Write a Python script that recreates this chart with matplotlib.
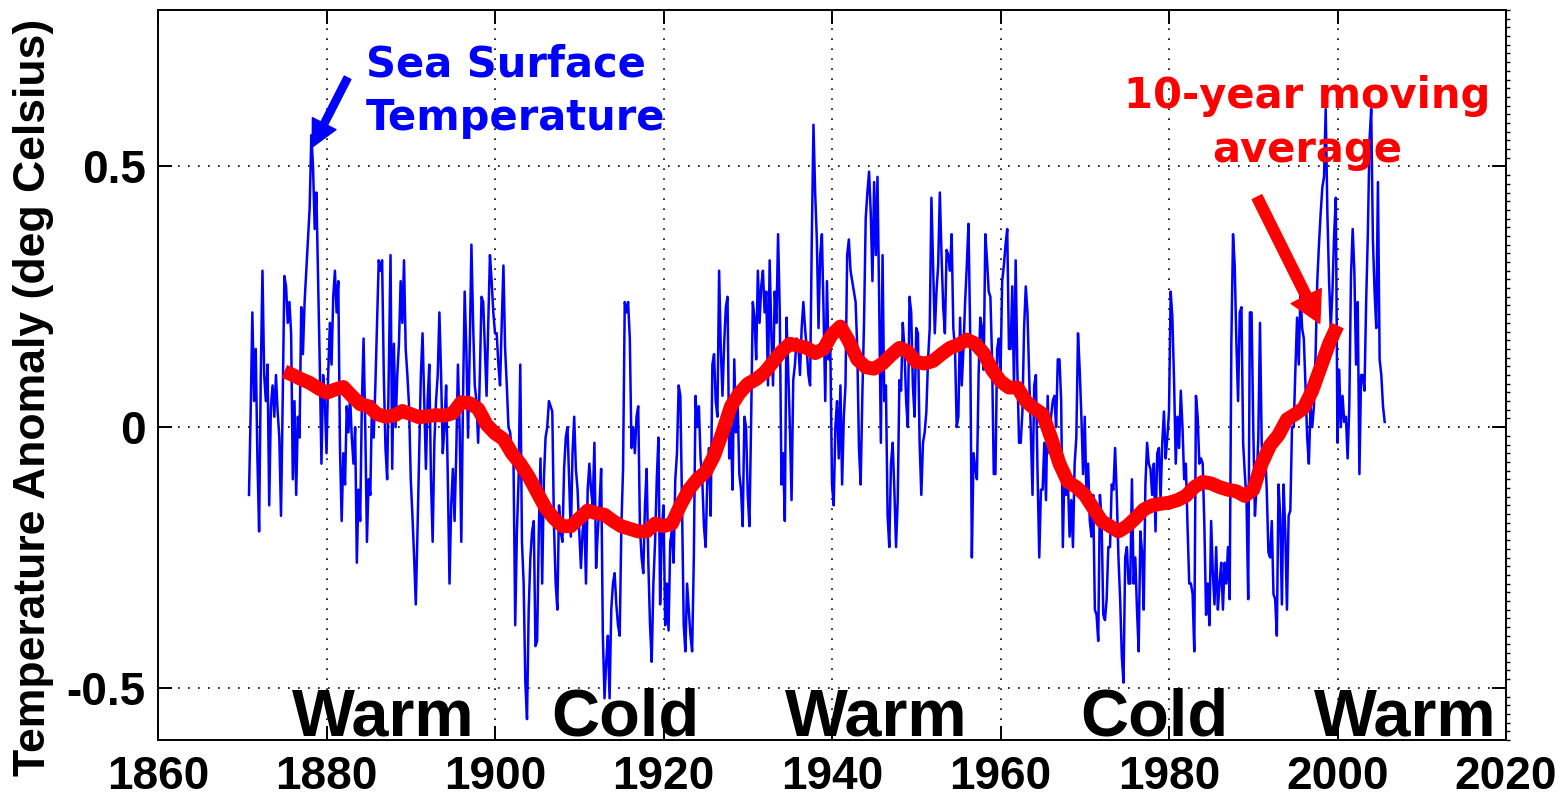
import numpy as np
import matplotlib.pyplot as plt
from matplotlib.ticker import MultipleLocator

plt.rcParams['font.family'] = ['Liberation Sans', 'DejaVu Sans']
plt.rcParams['font.weight'] = 'bold'
plt.rcParams['axes.unicode_minus'] = False

# ---------------------------------------------------------
# Sea surface temperature anomaly, sampled every 0.2 year
# ---------------------------------------------------------
sst_start = 1870.8
sst_step = 0.2

sst_1871_1887 = [-0.13, 0.03, 0.22, 0.05, 0.15, -0.06, -0.2, 0.1, 0.30, 0.1,
                 0.05, 0.12, -0.15, 0.04, 0.08, 0.02, 0.1, 0.03, -0.02, -0.17,
                 0.05, 0.29, 0.27, 0.2, 0.24, 0.18, -0.1, 0.05, -0.13, 0.02,
                 -0.02, 0.23, 0.14, 0.24, 0.3, 0.36, 0.42, 0.56, 0.5, 0.38,
                 0.45, 0.29, 0.12, -0.07, 0.1, 0.05, -0.05, 0.1, 0.2, 0.12,
                 0.25, 0.3, 0.22, 0.28, -0.04, -0.18, -0.05, -0.11, 0.04, -0.01,
                 0.06, -0.02, -0.07, 0.0, -0.26, -0.12, -0.18, 0.05, 0.17, 0.0,
                 -0.22, -0.1, -0.13, 0.05, -0.02, 0.08, 0.2, 0.32, 0.3, 0.32,
                 0.1, -0.04, -0.1, 0.12, 0.33]

sst_1888_1904 = [-0.08, 0.16, 0.0, 0.1, 0.16, 0.28, 0.2, 0.32, 0.15, 0.1,
                 0.04, -0.1, -0.17, -0.25, -0.34, -0.2, -0.05, 0.1, 0.18, 0.05,
                 -0.08, 0.05, 0.12, -0.1, -0.22, -0.03, 0.05, 0.1, 0.22, 0.1,
                 -0.05, 0.0, 0.08, -0.1, -0.3, -0.15, -0.08, -0.18, -0.05, 0.12,
                 0.0, -0.22, 0.05, 0.26, 0.15, -0.02, 0.15, 0.35, 0.2, 0.08,
                 0.05, -0.03, 0.1, 0.25, 0.24, 0.15, 0.06, 0.2, 0.33, 0.28,
                 0.22, 0.18, 0.18, 0.12, 0.08, 0.2, 0.31, 0.15, 0.08, 0.0,
                 -0.01, -0.05, -0.07, -0.38, -0.2, -0.1, 0.12, -0.22, -0.3, -0.49,
                 -0.56, -0.35, -0.25, -0.2, -0.18, -0.42]

sst_1905_1922 = [-0.41, -0.2, -0.06, -0.3, -0.1, -0.02, 0.0, 0.05, 0.04, 0.03,
                 -0.19, -0.3, -0.35, -0.15, -0.2, -0.22, -0.08, -0.02, 0.0, -0.1,
                 -0.21, -0.05, 0.02, -0.08, -0.12, -0.2, -0.27, -0.2, -0.17, -0.3,
                 -0.12, -0.07, -0.12, -0.15, -0.03, -0.27, -0.2, -0.15, -0.08, -0.4,
                 -0.52, -0.45, -0.4, -0.52, -0.35, -0.3, -0.28, -0.34, -0.38, -0.4,
                 -0.19, -0.08, 0.24, 0.22, 0.24, 0.17, -0.04, 0.0, -0.05, 0.02,
                 0.04, -0.19, -0.25, -0.28, -0.15, -0.08, -0.26, -0.38, -0.45, -0.3,
                 -0.22, -0.1, -0.02, -0.34, -0.2, -0.15, -0.38, -0.3, -0.39, -0.22,
                 -0.2, -0.26, -0.1, -0.05, 0.08, 0.06, -0.15]

sst_1922_1939 = [-0.38, -0.43, -0.3, -0.35, -0.4, -0.43, -0.25, 0.06, 0.0, 0.04,
                 -0.06, -0.1, -0.19, -0.23, -0.1, -0.04, -0.17, 0.12, 0.14, 0.05,
                 0.02, 0.3, 0.15, 0.06, 0.16, 0.23, 0.25, -0.06, 0.0, -0.12,
                 0.13, -0.01, 0.05, -0.09, -0.12, -0.19, 0.02, 0.0, -0.13, -0.19,
                 0.01, 0.24, 0.21, 0.13, 0.3, 0.2, 0.27, 0.3, 0.22, 0.26,
                 0.08, 0.32, 0.18, 0.08, 0.26, 0.2, 0.37, 0.22, -0.11, -0.05,
                 -0.18, 0.21, 0.11, 0.0, -0.14, 0.09, 0.12, 0.17, 0.16, 0.1,
                 0.19, 0.24, 0.19, 0.15, 0.1, 0.08, 0.36, 0.58, 0.45, 0.36,
                 0.19, 0.33, 0.37, 0.22, 0.05]

sst_1939_1956 = [0.28, 0.13, 0.15, -0.11, -0.15, 0.0, 0.05, -0.06, 0.08, -0.11,
                 0.02, 0.08, 0.33, 0.36, 0.3, 0.28, 0.26, 0.24, 0.15, -0.04,
                 -0.11, 0.06, 0.2, 0.4, 0.45, 0.49, 0.41, 0.28, 0.47, 0.33,
                 0.48, 0.24, -0.03, 0.33, 0.05, 0.08, -0.17, -0.23, -0.07, -0.03,
                 -0.12, -0.23, -0.14, 0.09, 0.07, 0.2, 0.15, 0.05, 0.0, 0.25,
                 0.22, 0.08, 0.02, 0.19, 0.18, -0.03, -0.13, -0.03, -0.01, 0.03,
                 0.13, 0.19, 0.44, 0.31, 0.18, 0.26, 0.31, 0.45, 0.33, 0.23,
                 0.18, 0.34, 0.33, 0.3, 0.37, 0.19, 0.15, 0.0, 0.02, 0.21,
                 0.08, 0.15, 0.24, 0.31, 0.39, 0.18, -0.25]

sst_1957_1973 = [-0.05, -0.08, -0.1, 0.1, 0.21, 0.19, 0.11, 0.37, 0.32, 0.26,
                 0.25, 0.13, -0.09, -0.09, 0.15, 0.17, 0.1, 0.28, 0.31, 0.35,
                 0.38, 0.15, 0.15, 0.27, 0.08, 0.32, 0.11, -0.03, -0.03, 0.03,
                 0.19, 0.27, 0.22, 0.1, -0.01, -0.13, 0.08, 0.1, -0.09, -0.25,
                 -0.12, -0.12, -0.03, -0.14, 0.06, -0.05, 0.02, 0.05, 0.06, 0.0,
                 0.13, 0.13, 0.05, -0.23, -0.07, -0.13, -0.1, -0.21, -0.14, -0.23,
                 -0.07, -0.02, 0.18, 0.11, 0.02, -0.09, 0.02, -0.13, -0.07, -0.18,
                 -0.21, -0.13, -0.35, -0.36, -0.41, -0.13, -0.18, -0.36, -0.37, -0.33,
                 -0.23, -0.23, -0.11, -0.12]

sst_1974_1990 = [-0.04, -0.13, -0.25, -0.33, -0.44, -0.49, -0.25, -0.23, -0.3, -0.3,
                 -0.1, -0.3, -0.25, -0.35, -0.43, -0.2, -0.24, -0.35, -0.11, -0.03,
                 -0.07, -0.08, -0.13, -0.07, -0.2, -0.05, -0.04, -0.14, -0.03, 0.03,
                 -0.06, -0.02, 0.03, 0.26, 0.21, 0.09, -0.07, 0.02, -0.04, 0.07,
                 0.0, -0.1, -0.07, -0.19, -0.3, -0.3, -0.32, -0.43, 0.06, 0.02,
                 -0.07, -0.06, -0.07, -0.19, -0.36, -0.3, -0.38, -0.18, -0.28, -0.34,
                 -0.23, -0.35, -0.3, -0.26, -0.35, -0.26, -0.3, -0.23, -0.33, 0.16,
                 0.37, 0.31, 0.16, 0.05, 0.22, 0.23, -0.03, -0.09, -0.14, -0.33,
                 0.22, 0.22, 0.0, -0.17, -0.11, -0.02]

sst_1991_2005 = [0.2, -0.03, -0.08, -0.04, -0.12, -0.24, -0.25, -0.18, -0.32, -0.33,
                 -0.4, -0.11, -0.17, -0.34, -0.11, -0.2, -0.35, -0.17, -0.16, 0.0,
                 0.0, 0.11, 0.21, 0.12, 0.26, 0.19, 0.17, 0.08, -0.02, -0.07,
                 0.04, 0.0, 0.04, 0.14, 0.28, 0.35, 0.41, 0.46, 0.48, 0.61,
                 0.41, 0.28, 0.19, 0.26, 0.37, 0.44, -0.03, 0.11, 0.0, 0.06,
                 0.01, 0.02, -0.06, 0.04, 0.29, 0.38, 0.3, 0.12, 0.24, -0.09,
                 0.1, 0.1, 0.07, 0.24, 0.37, 0.55, 0.61, 0.36, 0.26, 0.19,
                 0.47, 0.13, 0.1, 0.04, 0.01]

# ---------------------------------------------------------
# 10-year moving average, one value per year (1875-2000)
# ---------------------------------------------------------
ma_start = 1875
ma_1875_1924 = [0.107, 0.10, 0.092, 0.085, 0.075, 0.066, 0.072, 0.077, 0.06, 0.044,
                0.04, 0.025, 0.02, 0.022, 0.031, 0.025, 0.019, 0.021, 0.023, 0.022,
                0.027, 0.048, 0.046, 0.035, 0.005, -0.012, -0.023, -0.05, -0.07, -0.095,
                -0.125, -0.155, -0.175, -0.19, -0.19, -0.175, -0.16, -0.165, -0.168, -0.18,
                -0.19, -0.195, -0.2, -0.2, -0.185, -0.19, -0.185, -0.15, -0.12, -0.1]
ma_1925_1974 = [-0.086, -0.055, -0.01, 0.04, 0.065, 0.083, 0.092, 0.105, 0.125, 0.145,
                0.16, 0.156, 0.152, 0.142, 0.15, 0.178, 0.193, 0.165, 0.13, 0.115,
                0.112, 0.122, 0.138, 0.152, 0.145, 0.125, 0.122, 0.127, 0.14, 0.152,
                0.158, 0.168, 0.16, 0.142, 0.11, 0.088, 0.076, 0.076, 0.05, 0.036,
                0.025, -0.02, -0.07, -0.105, -0.115, -0.13, -0.155, -0.18, -0.19, -0.2]
ma_1975_2000 = [-0.19, -0.175, -0.158, -0.15, -0.147, -0.145, -0.14, -0.132, -0.115, -0.105,
                -0.108, -0.115, -0.12, -0.123, -0.132, -0.12, -0.07, -0.035, -0.015, 0.015,
                0.025, 0.037, 0.07, 0.115, 0.16, 0.195]

# Regime labels along the bottom
regime_names = ["Warm", "Cold", "Warm", "Cold", "Warm"]
regime_years = [1886.7, 1915.5, 1945.3, 1978.3, 2008.1]

year_ticks = np.arange(1860, 2021, 20)
anom_ticks = [-0.5, 0, 0.5]
anom_labels = ["-0.5", "0", "0.5"]

sst = np.concatenate([sst_1871_1887, sst_1888_1904, sst_1905_1922, sst_1922_1939,
                      sst_1939_1956, sst_1957_1973, sst_1974_1990, sst_1991_2005])
sst_t = sst_start + sst_step * np.arange(len(sst))

ma = np.concatenate([ma_1875_1924, ma_1925_1974, ma_1975_2000])
ma_t = ma_start + np.arange(len(ma))

# =========================================================
fig = plt.figure(figsize=(15.68, 7.97), dpi=100)
ax = fig.add_axes([158 / 1568, 57 / 797, 1348 / 1568, 730 / 797])

ax.plot(sst_t, sst, color='#0000ff', lw=1.8, zorder=3)
ax.plot(ma_t, ma, color='#ff0000', lw=10, solid_capstyle='butt', zorder=4)

ax.set_xlim(1860, 2020)
ax.set_ylim(-0.6, 0.8)
ax.set_xticks(year_ticks)
ax.set_yticks(anom_ticks, anom_labels)
ax.yaxis.set_minor_locator(MultipleLocator(1 / 60))

ax.grid(True, which='major', linestyle=(0, (1, 5)), color='black', lw=1.2)
ax.tick_params(which='major', direction='in', length=10, width=1.4,
               top=True, right=True, labelsize=33, pad=9)
ax.tick_params(axis='x', which='major', pad=11)
ax.tick_params(axis='y', which='minor', left=False, right=True,
               direction='out', length=3, width=1)
for spine in ax.spines.values():
    spine.set_linewidth(1.4)
    spine.set_color('black')

ax.set_ylabel("Temperature Anomaly (deg Celsius)", fontsize=32, fontweight='bold')
ax.yaxis.set_label_coords(-0.077, 0.47)

for name, yr in zip(regime_names, regime_years):
    ax.text(yr, -0.591, name, ha='center', va='baseline', fontsize=48,
            fontweight='bold', color='black', zorder=5)

# Annotations with arrows
ax.text(1884.7, 0.736, "Sea Surface\nTemperature", ha='left', va='top',
        fontsize=30, fontweight='bold', color='#0000ff', family='DejaVu Sans',
        linespacing=1.35, zorder=6)
ax.annotate('', xy=(1878.3, 0.537), xytext=(1882.5, 0.67),
            arrowprops=dict(arrowstyle='simple,head_length=1.0,head_width=1.0,tail_width=0.28',
                            color='#0000ff', mutation_scale=19, shrinkA=0, shrinkB=0),
            zorder=6)

ax.text(1996.4, 0.675, "10-year moving\naverage", ha='center', va='top',
        multialignment='center', fontsize=30, fontweight='bold', color='#ff0000',
        family='DejaVu Sans', linespacing=1.35, zorder=6)
ax.annotate('', xy=(1997.9, 0.199), xytext=(1990.45, 0.441),
            arrowprops=dict(arrowstyle='simple,head_length=1.0,head_width=1.1,tail_width=0.35',
                            color='#ff0000', mutation_scale=22, shrinkA=0, shrinkB=0),
            zorder=6)

fig.savefig("out.png", dpi=100)
